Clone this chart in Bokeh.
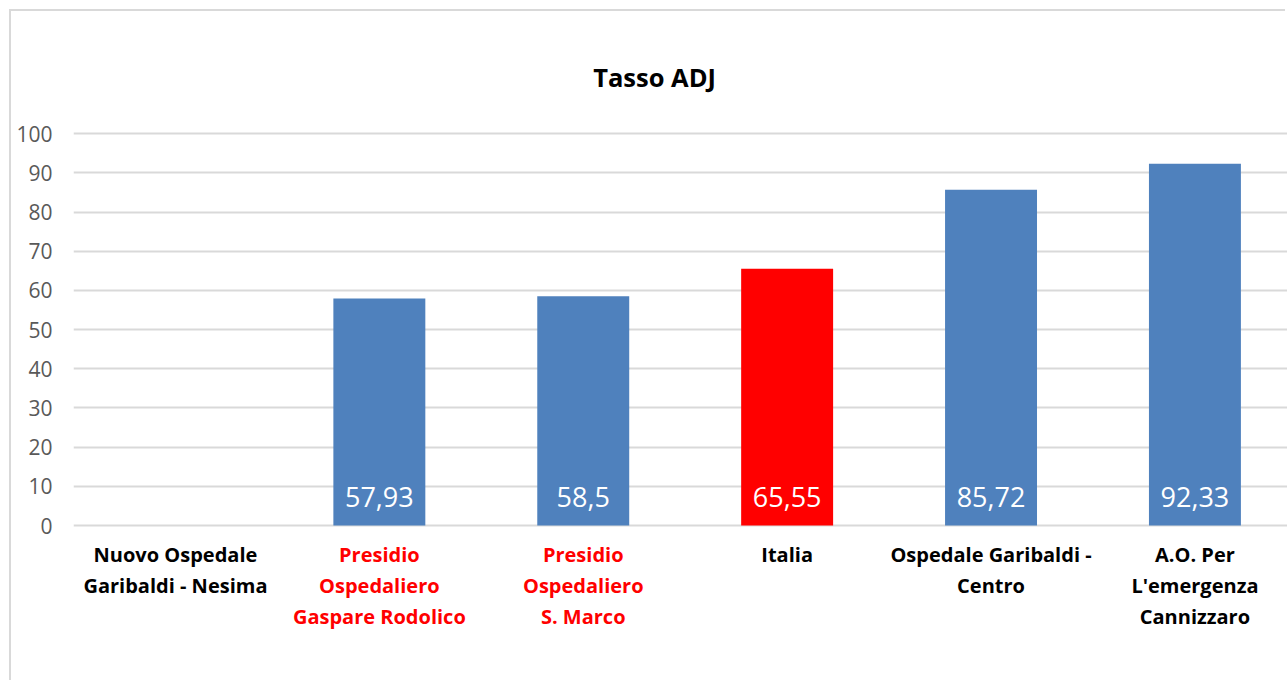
import math
from bokeh.plotting import figure
from bokeh.models import ColumnDataSource, Range1d, FixedTicker
from bokeh.core.properties import value
from bokeh.embed import file_html
from bokeh.resources import INLINE

# ---- data ----
categories = [
    "Nuovo Ospedale\nGaribaldi - Nesima",
    "Presidio\nOspedaliero\nGaspare Rodolico",
    "Presidio\nOspedaliero\nS. Marco",
    "Italia",
    "Ospedale Garibaldi -\nCentro",
    "A.O. Per\nL'emergenza\nCannizzaro",
]
values = [float("nan"), 57.93, 58.5, 65.55, 85.72, 92.33]
bar_colors = ["#4F81BD", "#4F81BD", "#4F81BD", "#FF0000", "#4F81BD", "#4F81BD"]
cat_label_colors = ["#000000", "#FF0000", "#FF0000", "#000000", "#000000", "#000000"]
y_ticks = [0, 10, 20, 30, 40, 50, 60, 70, 80, 90, 100]
title_text = "Tasso ADJ"

FONT = "Open Sans"

xs = [i + 0.5 for i in range(len(categories))]

bars = ColumnDataSource(dict(x=xs, top=values, color=bar_colors))
vals = [(x, v) for x, v in zip(xs, values) if not math.isnan(v)]
val_src = ColumnDataSource(dict(
    x=[x for x, _ in vals],
    y=[7.4] * len(vals),
    text=[("%g" % v).replace(".", ",") for _, v in vals],
))
cat_src = ColumnDataSource(dict(
    x=xs, y=[-4.0] * len(xs), text=categories, color=cat_label_colors,
))

p = figure(
    width=1276, height=671,
    x_range=Range1d(0, 5.954), y_range=Range1d(-40.08, 131.22),
    output_backend="svg", toolbar_location=None,
    min_border_left=62, min_border_right=0, min_border_top=0, min_border_bottom=0,
)
p.styles = {"margin-left": "11px", "margin-top": "11px",
            "box-shadow": "-2px -2px 0 0 #D9D9D9"}
p.outline_line_color = None
p.background_fill_color = "white"
p.border_fill_color = "white"

p.xaxis.visible = False
p.xgrid.visible = False

p.yaxis.ticker = FixedTicker(ticks=y_ticks)
p.yaxis.axis_line_color = None
p.yaxis.major_tick_line_color = None
p.yaxis.minor_tick_line_color = None
p.yaxis.major_tick_out = 0
p.yaxis.major_tick_in = 0
p.yaxis.minor_tick_out = 0
p.yaxis.major_label_standoff = 21
p.yaxis.major_label_text_font = FONT
p.yaxis.major_label_text_font_size = "21px"
p.yaxis.major_label_text_color = "#595959"

p.ygrid.ticker = FixedTicker(ticks=y_ticks)
p.ygrid.grid_line_color = "#D9D9D9"
p.ygrid.grid_line_width = 2

p.vbar(x="x", top="top", width=0.451, bottom=0, source=bars,
       fill_color="color", line_color=None)

p.text(x="x", y="y", text="text", source=val_src,
       text_font=value(FONT), text_font_size="27px", text_color="white",
       text_align="center", text_baseline="middle")

p.text(x="x", y="y", text="text", source=cat_src,
       text_font=value(FONT), text_font_size="20px", text_font_style="bold",
       text_color="color", text_align="center", text_baseline="top",
       text_line_height=1.14)

p.text(x=[2.85], y=[114.4], text=[title_text],
       text_font=value(FONT), text_font_size="25.5px", text_font_style="bold",
       text_color="black", text_align="center", text_baseline="middle")

open("out.html", "w").write(file_html(p, INLINE))
